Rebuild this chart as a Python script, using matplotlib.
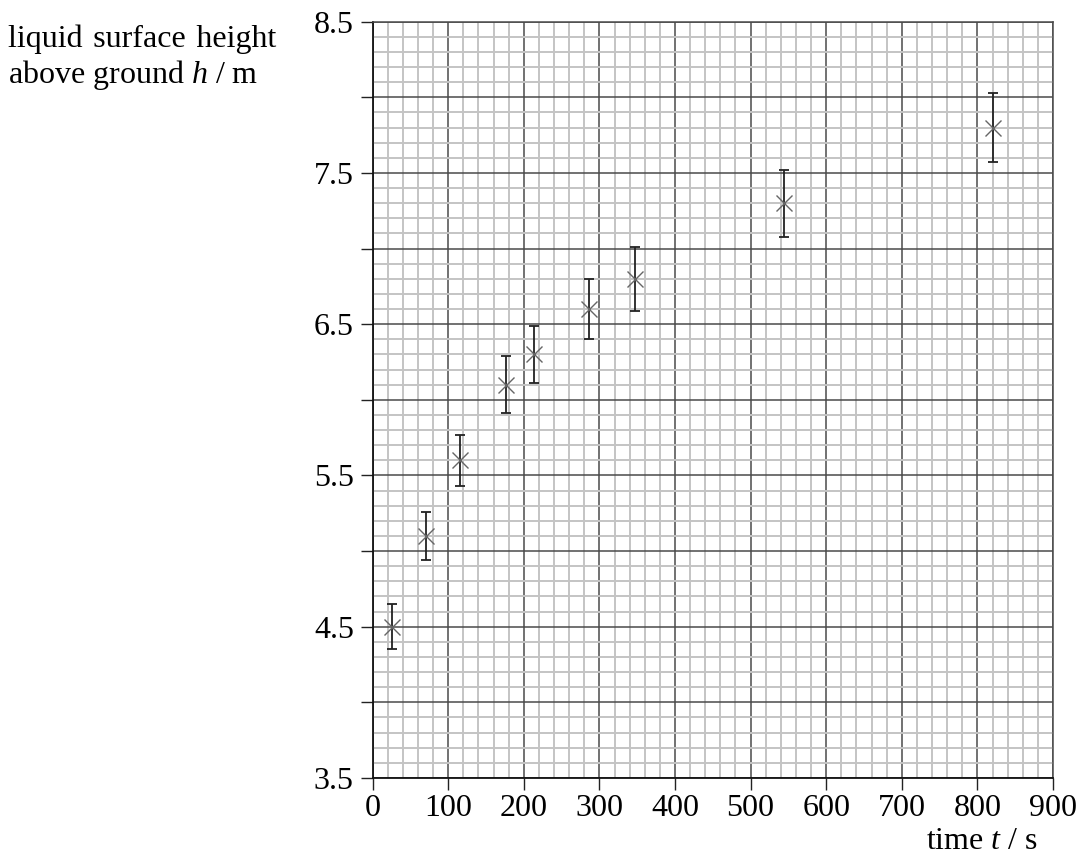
import matplotlib.pyplot as plt
from matplotlib.ticker import MultipleLocator, FuncFormatter

plt.rcParams['font.family'] = ['Liberation Serif', 'DejaVu Serif']
plt.rcParams['mathtext.fontset'] = 'custom'
plt.rcParams['mathtext.it'] = 'Liberation Serif:italic'
plt.rcParams['mathtext.rm'] = 'Liberation Serif'

# readings: time (s), height (m), uncertainty (m)
time_s = [25, 71, 115, 176, 214, 286, 347, 544, 820]
height_m = [4.50, 5.10, 5.60, 6.10, 6.30, 6.60, 6.80, 7.30, 7.80]
err_m = [0.15, 0.16, 0.17, 0.19, 0.19, 0.20, 0.21, 0.22, 0.23]

x_ticks = list(range(0, 901, 100))
y_labels = [3.5, 4.5, 5.5, 6.5, 7.5, 8.5]

fig = plt.figure(figsize=(10.77, 8.59), dpi=100)
ax = fig.add_axes([0.346, 0.0943, 0.6317, 0.8804])

ax.set_xlim(0, 900)
ax.set_ylim(3.5, 8.5)

# graph paper grid
ax.xaxis.set_major_locator(MultipleLocator(100))
ax.xaxis.set_minor_locator(MultipleLocator(20))
ax.yaxis.set_major_locator(MultipleLocator(0.5))
ax.yaxis.set_minor_locator(MultipleLocator(0.1))
ax.grid(which='minor', color='#c4c4c4', linewidth=1.4)
ax.grid(which='major', color='#4a4a4a', linewidth=1.1)
ax.set_axisbelow(True)

ax.tick_params(which='minor', length=0)
ax.tick_params(which='major', length=8.5, width=1.0, color='#222222',
               labelsize=23)
ax.tick_params(axis='x', pad=3)
ax.tick_params(axis='y', pad=5)
ax.set_xticks(x_ticks)
ax.yaxis.set_major_formatter(FuncFormatter(
    lambda v, p: ('%.1f' % v) if any(abs(v - l) < 1e-6 for l in y_labels) else ''))

for side in ['top', 'right']:
    ax.spines[side].set_color('#4a4a4a')
    ax.spines[side].set_linewidth(1.1)
for side in ['left', 'bottom']:
    ax.spines[side].set_color('#111111')
    ax.spines[side].set_linewidth(1.3)

ax.errorbar(time_s, height_m, yerr=err_m, fmt='none', ecolor='#222222',
            elinewidth=1.3, capsize=3.3, capthick=1.3, zorder=3)
ax.plot(time_s, height_m, linestyle='none', marker='x', markersize=12,
        markeredgewidth=1.0, color='#666666', zorder=4)

fig.text(0.007, 0.9453, 'liquid\u200a surface\u200a height', fontsize=23,
         ha='left', va='baseline')
fig.text(0.007, 0.9034, 'above ground $h$ / m', fontsize=23, ha='left', va='baseline')
fig.text(0.9638, 0.012, 'time $t$ / s', fontsize=23, ha='right', va='baseline')

fig.savefig('out.png', dpi=100)
